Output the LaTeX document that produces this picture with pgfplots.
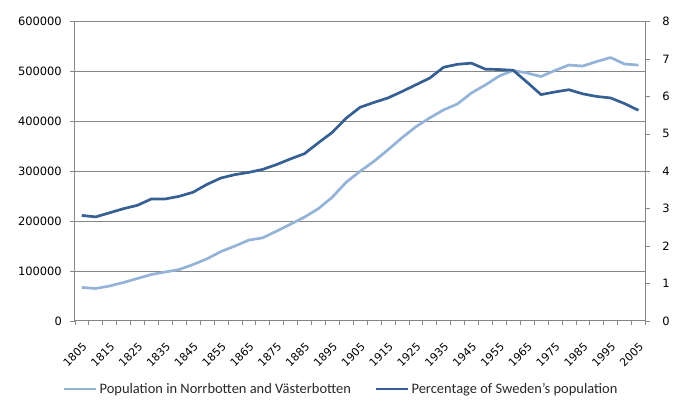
\documentclass[border=0pt]{standalone}
\usepackage{pgfplots}
\pgfplotsset{compat=1.18}
\usepackage{pgfplotstable}
\usepackage{fontspec}
\setmainfont{Carlito}
\newfontfamily\tickfont{DejaVu Sans}
\definecolor{popc}{RGB}{149,179,215}
\definecolor{pctc}{RGB}{55,96,146}
\definecolor{gridc}{RGB}{134,134,134}
\definecolor{txtc}{RGB}{40,40,40}
\pgfplotstableread{
year pop pct
1805 67000 2.82
1810 65000 2.78
1815 70000 2.89
1820 77000 3.00
1825 85000 3.09
1830 93000 3.26
1835 98000 3.26
1840 103000 3.33
1845 113000 3.44
1850 124500 3.65
1855 139000 3.82
1860 150000 3.91
1865 162000 3.97
1870 166500 4.05
1875 180000 4.18
1880 194000 4.33
1885 208000 4.47
1890 225000 4.76
1895 248000 5.04
1900 278000 5.42
1905 300000 5.71
1910 320000 5.84
1915 343000 5.96
1920 367000 6.13
1925 389000 6.31
1930 407000 6.49
1935 423000 6.78
1940 435000 6.86
1945 457000 6.89
1950 473000 6.73
1955 491000 6.72
1960 502000 6.70
1965 497000 6.38
1970 490000 6.05
1975 502000 6.12
1980 513000 6.18
1985 511000 6.07
1990 520000 6.00
1995 528000 5.96
2000 515000 5.81
2005 513000 5.63
}\data
\pgfplotsset{
  common/.style={
    scale only axis, width=572pt, height=300pt,
    xmin=-0.5, xmax=40.5,
    tick align=outside, major tick length=4.5pt,
    every tick/.style={gridc, line width=0.6pt},
    axis line style={gridc, line width=0.8pt},
    tick label style={font=\tickfont\fontsize{11.5}{13}\selectfont, text=black},
    /pgf/number format/assume math mode=true,
    /pgf/number format/fixed,
    /pgf/number format/1000 sep={},
  },
}
\begin{document}
\begin{tikzpicture}[x=1pt,y=1pt]
\begin{axis}[common,
  ymin=0, ymax=600000,
  scaled y ticks=false,
  ytick={0,100000,200000,300000,400000,500000,600000},
  ymajorgrids, grid style={gridc, line width=0.8pt},
  axis x line*=bottom, axis y line*=left,
  xtick={-0.5,0.5,...,40.5}, xticklabels={},
  extra x ticks={0,2,...,40},
  extra x tick labels={1805,1815,1825,1835,1845,1855,1865,1875,1885,1895,1905,1915,1925,1935,1945,1955,1965,1975,1985,1995,2005},
  extra x tick style={major tick length=0pt,
    tick label style={anchor=north east, font=\tickfont\fontsize{11}{13}\selectfont, xshift=0pt, yshift=-16pt, rotate=45}},
  yticklabel style={xshift=-5pt},
]
\addplot[popc, line width=2.7pt, line join=round] table[x expr=(\thisrow{year}-1805)/5, y=pop]{\data};
\end{axis}
\begin{axis}[common,
  ymin=0, ymax=8,
  ytick={0,1,...,8},
  axis y line*=right, axis x line=none,
  yticklabel style={xshift=9pt},
  legend columns=2,
  legend style={draw=none, fill=none, at={(-0.021,-0.228)}, anchor=west,
    font=\fontsize{14.5}{16}\selectfont, text=txtc, inner sep=0pt,
    /tikz/every even column/.append style={column sep=22pt}},
  legend cell align=left,
  legend image code/.code={\draw[#1] (0pt,0pt) -- (32pt,0pt);},
]
\addlegendimage{popc, line width=2.7pt}
\addlegendentry{Population in Norrbotten and Västerbotten}
\addplot[pctc, line width=2.7pt, line join=round] table[x expr=(\thisrow{year}-1805)/5, y=pct]{\data};
\addlegendentry{Percentage of Sweden's population}
\end{axis}
\path ([xshift=-75pt,yshift=-84.3pt]current axis.south west) rectangle ++(673,406);
\end{tikzpicture}
\end{document}
